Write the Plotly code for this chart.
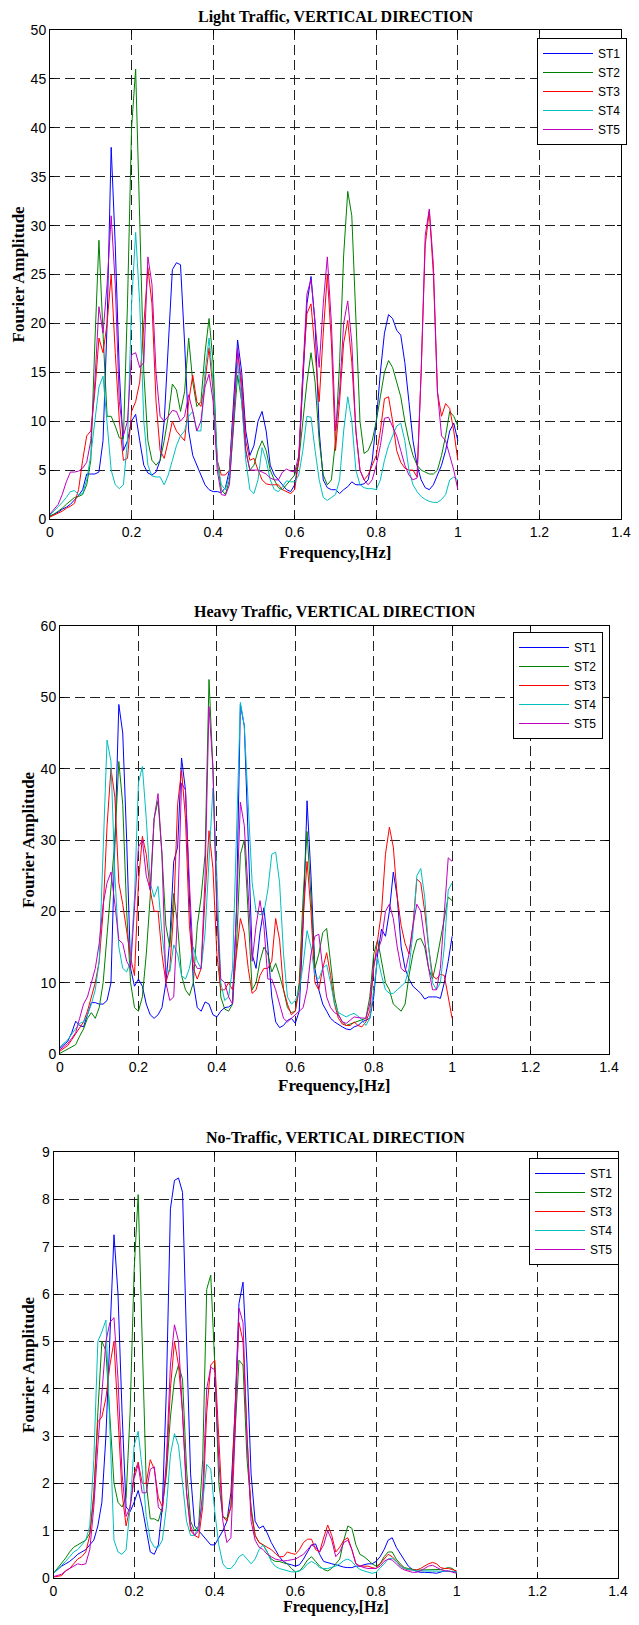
import plotly.graph_objects as go

# frequencia 0..1 Hz, passo 0.01
freq = [round(i * 0.01, 2) for i in range(101)]

stations = ["ST1", "ST2", "ST3", "ST4", "ST5"]
colors = ["#0000FF", "#008000", "#FF0000", "#00BFBF", "#BF00BF"]

# Light traffic
light_st1 = [0.3, 0.5, 0.7, 1.0, 1.2, 1.5, 1.9, 2.4, 3.0, 4.6,
             4.6, 4.6, 4.8, 8, 20, 38, 28, 15, 7, 8,
             10, 10.7, 8, 5.5, 4.7, 4.5, 4.8, 6, 10, 18,
             25.5, 26.2, 26, 18, 9, 6.5, 5.5, 4.5, 3.5, 3,
             2.8, 2.8, 2.7, 3.2, 5, 12, 18.3, 15, 9, 6.5,
             7.5, 10, 11, 9, 5.5, 4.5, 4, 3.5, 3, 2.8,
             3.5, 6, 14, 22, 24.8, 20, 9, 4, 3.2, 3,
             3, 2.6, 3, 3.3, 3.8, 3.5, 3.5, 3.6, 4, 6,
             10, 15, 19, 20.9, 20.5, 19.3, 18.8, 16, 12, 8,
             5.5, 4, 3.2, 3, 3.5, 4.5, 5.5, 7, 9, 9.8, 8]
light_st2 = [0.3, 0.5, 0.8, 1.1, 1.5, 1.9, 2.2, 2.3, 2.5, 3.5,
             6, 18, 28.5, 19, 10.5, 10.5, 9.5, 8.3, 8.2, 22,
             40, 46, 30, 15, 8, 6, 5.5, 6, 8, 10.5,
             13.8, 13.2, 11, 13, 18.5, 14, 11.5, 12, 17, 20.5,
             16, 6, 3, 2.5, 4, 9, 14.7, 12, 7, 5,
             5.5, 7, 8, 7, 5, 4, 3.2, 3, 3.5, 4,
             4.5, 6, 10, 14, 17, 14, 8, 4.5, 3.5, 4,
             8, 16, 27, 33.5, 31, 20, 10, 6.7, 7, 8,
             10, 12.5, 15, 16.2, 15.5, 14, 12.5, 10, 8, 6.5,
             5.5, 5, 4.8, 4.6, 4.6, 5, 6.5, 8.5, 11, 10.5, 9.5]
light_st3 = [0.2, 0.4, 0.6, 0.8, 1.1, 1.3, 1.6, 3, 6, 8.5,
             9, 13, 18.5, 17, 20, 25, 17, 10, 6, 6.2,
             11, 12, 14, 20, 25.7, 22, 12, 7, 6.2, 8,
             10, 9, 8.5, 8, 12, 14.7, 12, 11.5, 14, 17.5,
             13, 6, 4.5, 4.5, 5, 11, 17, 14, 8, 6,
             6.2, 5, 4, 3.6, 3.5, 3.5, 3.5, 3, 2.8, 2.6,
             3, 6, 15, 21, 22, 17, 12, 19, 25, 18,
             7, 12, 18, 20.3, 16, 9, 5, 4, 4.5, 5.5,
             6.5, 9, 12.3, 12.5, 10, 7, 5.8, 5.2, 5, 5,
             4.3, 15, 28, 31.5, 25, 13, 10.5, 11.8, 11.3, 9, 6]
light_st4 = [0.4, 0.8, 1.2, 1.7, 2.2, 2.8, 2.9, 2.5, 2.6, 4,
             6.5, 10, 13.5, 14.6, 10, 5, 3.5, 3.1, 3.5, 8,
             22, 29.3, 22, 10, 5.5, 4.4, 4.3, 4.3, 3.5, 4.5,
             6, 7.5, 8.5, 9, 10.5, 11, 9, 9, 15, 18.5,
             14, 6, 3.5, 3, 4.5, 10, 16, 12, 6, 3,
             2.6, 4, 7.3, 6, 4, 3, 2.8, 3.3, 3.9, 3.8,
             3.8, 4.5, 7, 10.5, 10.4, 7, 4, 2.2, 1.9, 2.2,
             2.5, 4, 9, 12.5, 10, 5, 3.5, 3.2, 3.1, 3.1,
             3, 4, 6, 7.5, 8.5, 9.5, 9.8, 8, 5, 3.5,
             2.8, 2.3, 2, 1.8, 1.7, 1.7, 2, 2.5, 4, 4.3, 4]
light_st5 = [0.5, 1, 1.5, 2.5, 3.8, 4.8, 4.8, 4.9, 5.2, 5.8,
             8, 14, 21.7, 19, 24, 31, 24, 12, 8.5, 10,
             16.8, 17, 15.5, 16, 26.8, 24, 15, 10.5, 10, 10.5,
             11.1, 11, 10, 10.5, 12.7, 11, 9, 10, 13.5, 14.8,
             12, 5, 2.5, 2.4, 3.5, 10, 17.5, 13, 7, 5,
             5, 5, 4.8, 4.6, 4.2, 4, 4, 4.8, 5.1, 4.9,
             4.8, 6.5, 15, 23, 24.5, 20, 15.5, 22, 26.8, 20,
             9, 13, 20, 22.3, 18, 9, 5, 4, 3.5, 4,
             5.5, 7.5, 10.3, 10.4, 9.5, 8.5, 7, 5.5, 4.5, 4,
             4.2, 15, 29, 31.7, 26, 13, 8.5, 8, 6.5, 5, 3]

# Heavy traffic
heavy_st1 = [0.8, 1.3, 1.8, 3, 4.6, 4, 3.8, 5.5, 7.2, 7.2,
             7, 7, 7.5, 10, 30, 49, 45, 30, 12, 9.5,
             10.5, 9.5, 7, 5.5, 5, 5.5, 6.5, 10, 16, 27,
             29, 41.5, 37, 22, 10, 6.5, 6, 7.3, 7, 5.5,
             5.2, 6, 6.5, 6.6, 7, 20, 49, 46, 30, 14,
             12, 17, 20.5, 15, 8, 4.5, 3.7, 4, 4.7, 5,
             4.3, 6, 18, 35.5, 25, 12, 9, 7, 6, 5,
             4.5, 4.1, 3.8, 3.5, 3.4, 3.8, 4, 4.5, 4.7, 5,
             8, 14, 17.5, 16.5, 20, 25.5, 22, 15, 12, 10.5,
             9.5, 9, 8.5, 7.7, 8, 8, 8, 7.8, 10, 13, 16.5]
heavy_st2 = [0.1, 0.4, 0.8, 1, 1.3, 2.5, 3.5, 5, 5.8, 5,
             6.5, 10, 17, 24, 30, 41, 35, 20, 10, 6.5,
             6, 8, 14, 22, 33, 35.5, 28, 18, 15, 22.5,
             18, 11, 9, 8.2, 10, 18, 22, 28, 52.5, 40,
             20, 8, 6.3, 6, 7, 15, 28, 30, 20, 9,
             10, 13, 15, 14, 11.5, 12.7, 11, 9, 6.5, 5.8,
             6, 10, 22, 31.2, 22, 12, 14, 17, 17.6, 13,
             8, 5.5, 4.5, 4, 4.2, 4.5, 4.6, 4.8, 5, 8,
             14, 16, 13, 10, 9, 7, 6.5, 6, 7, 11,
             14, 16, 16.2, 15, 12, 10.5, 13, 16, 19, 22, 21.5]
heavy_st3 = [0.4, 0.8, 1.2, 2, 2.8, 3.6, 4.5, 6, 8, 10,
             13, 20, 32, 40, 36, 24, 21, 17, 13.5, 11,
             24, 30.5, 28, 23, 20, 20, 14, 10, 12, 20,
             35, 39.8, 33, 18, 12, 10.5, 12, 22, 31.3, 26,
             14, 9, 9, 10, 9, 14, 19, 17, 12, 8.5,
             9, 11, 12, 12, 13, 19, 16, 9, 7, 5.5,
             6, 9, 19, 27, 20, 10, 9, 12, 14.2, 11,
             7, 5, 4.2, 4, 4, 4.5, 4, 3.8, 4.5, 6,
             12, 16, 20, 28, 31.8, 29, 22, 18, 15.5, 14,
             18, 24.5, 24, 20, 15, 11, 10.5, 11.2, 11, 8, 5]
heavy_st4 = [1, 1.5, 2, 2.8, 3.5, 4.3, 4.5, 5.5, 7, 9,
             13, 28, 44, 41, 25, 15, 12, 11.5, 13, 22,
             38, 40.3, 33, 24, 22, 23.5, 17, 12, 11.5, 15.3,
             14, 11, 10.5, 12, 15, 13, 12, 17, 28, 37.3,
             25, 10, 7.5, 8, 12, 30, 49.3, 46, 35, 24,
             20, 19.5, 19.8, 23, 28, 28.3, 24, 14, 8, 7,
             7.5, 9, 12.5, 17.3, 15, 11, 10.5, 12, 12.5, 10,
             7, 5.8, 5.5, 5.2, 5.5, 5.7, 5.3, 4.8, 4, 5,
             9, 13.5, 11, 9, 8.5, 8.5, 9, 9.5, 10, 12,
             17, 25, 26, 22, 15, 10, 9, 10, 15, 23, 24]
heavy_st5 = [0.6, 1, 1.5, 2.2, 3, 5, 7, 8, 10, 12,
             15.5, 21, 24, 25.5, 21, 16, 15.5, 13, 12, 20,
             29, 30, 25, 23, 33, 36.5, 28, 10, 7.5, 8,
             20, 38, 37, 24, 13, 12, 12, 25, 48.7, 40,
             20, 10.5, 10, 8, 7, 20, 35.3, 32, 22, 13,
             18, 21.5, 18, 10.5, 10.5, 9, 7, 5, 4.5, 5,
             5.5, 6, 6.5, 9, 14, 16.5, 16.8, 12, 8, 6.5,
             5.8, 5.5, 4.5, 4.3, 4.7, 5.2, 5.1, 5, 5, 7,
             12.5, 14.5, 16, 20, 21, 19, 15, 12, 11.5, 14,
             18, 21, 20, 16, 12, 9, 9, 12, 20, 27.5, 27]

# No traffic
none_st1 = [0.1, 0.18, 0.25, 0.3, 0.35, 0.42, 0.5, 0.55, 0.6, 0.7,
            0.8, 1.1, 1.6, 3, 5.3, 7.25, 6, 3.5, 1.5, 1.4,
            1.6, 1.85, 1.5, 1, 0.55, 0.5, 0.7, 1.5, 4, 7.8,
            8.4, 8.45, 8.15, 5, 2.2, 1.1, 1, 0.9, 0.8, 0.7,
            0.7, 0.85, 1.0, 1.2, 1.8, 3.5, 5.8, 6.25, 4.5, 2.2,
            1.2, 1.05, 1.1, 0.95, 0.75, 0.6, 0.45, 0.35, 0.3, 0.28,
            0.25, 0.28, 0.4, 0.55, 0.7, 0.72, 0.5, 0.35, 0.32, 0.3,
            0.28, 0.25, 0.23, 0.22, 0.22, 0.25, 0.25, 0.28, 0.3, 0.3,
            0.35, 0.45, 0.6, 0.8, 0.85, 0.65, 0.5, 0.38, 0.25, 0.18,
            0.14, 0.12, 0.12, 0.12, 0.11, 0.1, 0.13, 0.15, 0.14, 0.14, 0.13]
none_st2 = [0.1, 0.2, 0.3, 0.42, 0.55, 0.65, 0.7, 0.75, 0.8, 0.95,
            1.7, 3.5, 5.0, 4.8, 3.5, 2, 1.6, 1.5, 1.7, 3.5,
            6.5, 8.1, 5, 2, 1.25, 1.25, 1.2, 1.5, 2.2, 3.4,
            4.2, 4.5, 4.2, 2.3, 1.2, 1, 1.1, 2.5, 6.1, 6.4,
            4.5, 2, 1.3, 1.25, 1.5, 3, 4.6, 4.5, 2.5, 1.5,
            0.9, 0.75, 0.7, 0.55, 0.4, 0.35, 0.35, 0.32, 0.3, 0.2,
            0.13, 0.15, 0.25, 0.38, 0.45, 0.35, 0.25, 0.18, 0.15, 0.2,
            0.3, 0.4, 0.8, 1.1, 1.05, 0.7, 0.5, 0.45, 0.38, 0.3,
            0.25, 0.3, 0.45, 0.55, 0.55, 0.4, 0.3, 0.22, 0.2, 0.18,
            0.17, 0.17, 0.17, 0.17, 0.18, 0.18, 0.18, 0.2, 0.22, 0.2, 0.1]
none_st3 = [0.02, 0.03, 0.05, 0.15, 0.2, 0.3, 0.4, 0.45, 0.55, 0.9,
            1.8, 3.3, 3.4, 3.8, 4.5, 5, 3.5, 1.8, 1.1, 1.5,
            2.2, 2.45, 2, 2, 2.5, 2.3, 1.7, 1.5, 2.3, 4,
            5, 4.5, 3.5, 1.8, 1, 0.9, 0.85, 1.5, 3.5, 4.5,
            4.6, 3, 1.3, 1.2, 1.5, 3.5, 5.4, 5, 3, 1.4,
            0.9, 0.75, 0.7, 0.65, 0.6, 0.52, 0.45, 0.45, 0.55, 0.52,
            0.5, 0.6, 0.75, 0.82, 0.82, 0.6, 0.55, 0.85, 1.12, 0.9,
            0.55, 0.65, 0.8, 0.85, 0.6, 0.3, 0.25, 0.25, 0.25, 0.22,
            0.2, 0.3, 0.4, 0.5, 0.45, 0.35, 0.27, 0.2, 0.17, 0.17,
            0.17, 0.2, 0.25, 0.3, 0.33, 0.3, 0.22, 0.2, 0.2, 0.18, 0.15]
none_st4 = [0.1, 0.18, 0.25, 0.35, 0.45, 0.55, 0.6, 0.7, 0.8, 1.1,
            2.5, 5, 5.2, 5.45, 3, 0.8, 0.55, 0.5, 0.6, 1.5,
            2.8, 3.1, 2.3, 1.3, 0.8, 0.65, 0.65, 0.8, 1.5, 2.6,
            3.05, 2.8, 2, 1.2, 0.9, 0.9, 1.1, 1.6, 2.4, 2.3,
            1.4, 0.7, 0.3, 0.2, 0.2, 0.3, 0.45, 0.5, 0.4, 0.3,
            0.4, 0.6, 0.7, 0.55, 0.35, 0.25, 0.2, 0.18, 0.15, 0.13,
            0.13, 0.15, 0.2, 0.3, 0.35, 0.3, 0.22, 0.2, 0.2, 0.22,
            0.25, 0.3, 0.37, 0.4, 0.35, 0.25, 0.18, 0.15, 0.13, 0.1,
            0.12, 0.2, 0.3, 0.4, 0.42, 0.35, 0.25, 0.2, 0.18, 0.16,
            0.15, 0.15, 0.15, 0.15, 0.15, 0.15, 0.15, 0.15, 0.15, 0.14, 0.12]
none_st5 = [0.03, 0.05, 0.08, 0.15, 0.2, 0.25, 0.3, 0.28, 0.3, 0.6,
            1.5, 2.8, 4, 5, 5.4, 5.5, 4.2, 2.2, 1.3, 1.5,
            2.1, 2.4, 1.8, 1.8, 2.3, 2.35, 1.5, 1.4, 2.5, 4.5,
            5.35, 5, 3.5, 1.8, 1.1, 0.9, 1, 1.8, 4, 4.45,
            4.4, 2.5, 1.2, 0.75, 0.85, 3, 5.7, 5.4, 3, 1.2,
            0.8, 0.65, 0.6, 0.5, 0.45, 0.4, 0.38, 0.36, 0.37, 0.38,
            0.4, 0.45, 0.5, 0.6, 0.7, 0.65, 0.55, 0.7, 1.0, 0.8,
            0.45, 0.55, 0.75, 0.8, 0.6, 0.3, 0.25, 0.22, 0.2, 0.2,
            0.2, 0.25, 0.35, 0.4, 0.38, 0.3, 0.22, 0.17, 0.15, 0.12,
            0.12, 0.15, 0.2, 0.25, 0.27, 0.22, 0.18, 0.15, 0.15, 0.12, 0.1]

panels = [
    ("Light Traffic, VERTICAL DIRECTION", [light_st1, light_st2, light_st3, light_st4, light_st5], 50, 5),
    ("Heavy Traffic, VERTICAL DIRECTION", [heavy_st1, heavy_st2, heavy_st3, heavy_st4, heavy_st5], 60, 10),
    ("No-Traffic, VERTICAL DIRECTION", [none_st1, none_st2, none_st3, none_st4, none_st5], 9, 1),
]

# margem de 8px do body: a figura fica menor e as posicoes sao deslocadas
OFF = 8
W, H = 639 - 2 * OFF, 1625 - 2 * OFF
# caixas dos eixos em pixels da pagina (esq, dir, topo, baixo)
boxes = [(50, 621, 30, 519), (60, 609, 626, 1054), (53.5, 618, 1152, 1578)]
legend_pos = [(627, 38), (603, 632), (619, 1158)]
title_y = [17, 612, 1137]
xtitle_y = [552, 1085, 1607]
xtitle_size = [17, 17, 16]
ytitle_x = [18, 28, 28]


def px(x):
    return (x - OFF) / W


def py(y):
    return 1 - (y - OFF) / H


SANS = "Liberation Sans, Arial"
SERIF = "Liberation Serif, Times New Roman"

fig = go.Figure()
annotations = []
for k, (title, series, ymax, dy) in enumerate(panels):
    n = "" if k == 0 else str(k + 1)
    leg = "legend" if k == 0 else "legend" + str(k + 1)
    for name, col, vals in zip(stations, colors, series):
        fig.add_trace(go.Scatter(
            x=freq, y=vals, mode="lines", name=name,
            line=dict(color=col, width=1),
            xaxis="x" + n, yaxis="y" + n, legend=leg,
        ))
    l, r, t, b = boxes[k]
    axis_common = dict(
        showline=True, linecolor="black", linewidth=1, mirror="ticks",
        ticks="inside", ticklen=4, tickcolor="black", automargin=False,
        showgrid=True, gridcolor="#222222", gridwidth=1, griddash="10px,5px",
        zeroline=False, tickfont=dict(family=SANS, size=14, color="black"),
    )
    fig.update_layout({
        "xaxis" + n: dict(domain=[px(l), px(r)], anchor="y" + n, range=[0, 1.4],
                          dtick=0.2, tick0=0, **axis_common),
        "yaxis" + n: dict(domain=[py(b), py(t)], anchor="x" + n, range=[0, ymax],
                          dtick=dy, tick0=0, **axis_common),
        leg: dict(
            x=px(legend_pos[k][0]), y=py(legend_pos[k][1]), xanchor="right", yanchor="top",
            bgcolor="white", bordercolor="black", borderwidth=1, itemwidth=50,
            font=dict(family=SANS, size=12, color="black"), tracegroupgap=0,
        ),
    })
    cx = px((l + r) / 2)
    annotations.append(dict(text=title, x=cx, y=py(title_y[k]), xref="paper", yref="paper",
                            xanchor="center", yanchor="middle", showarrow=False,
                            font=dict(family=SERIF, size=16, color="black", weight="bold")))
    annotations.append(dict(text="Frequency,[Hz]", x=cx, y=py(xtitle_y[k]), xref="paper", yref="paper",
                            xanchor="center", yanchor="middle", showarrow=False,
                            font=dict(family=SERIF, size=xtitle_size[k], color="black", weight="bold")))
    annotations.append(dict(text="Fourier Amplitude", x=px(ytitle_x[k]), y=py((t + b) / 2),
                            xref="paper", yref="paper", textangle=-90,
                            xanchor="center", yanchor="middle", showarrow=False,
                            font=dict(family=SERIF, size=17, color="black", weight="bold")))

fig.update_layout(
    width=W, height=H, margin=dict(l=0, r=0, t=0, b=0, pad=0, autoexpand=False),
    paper_bgcolor="white", plot_bgcolor="white",
    annotations=annotations, showlegend=True,
)

fig.write_html("out.html")
